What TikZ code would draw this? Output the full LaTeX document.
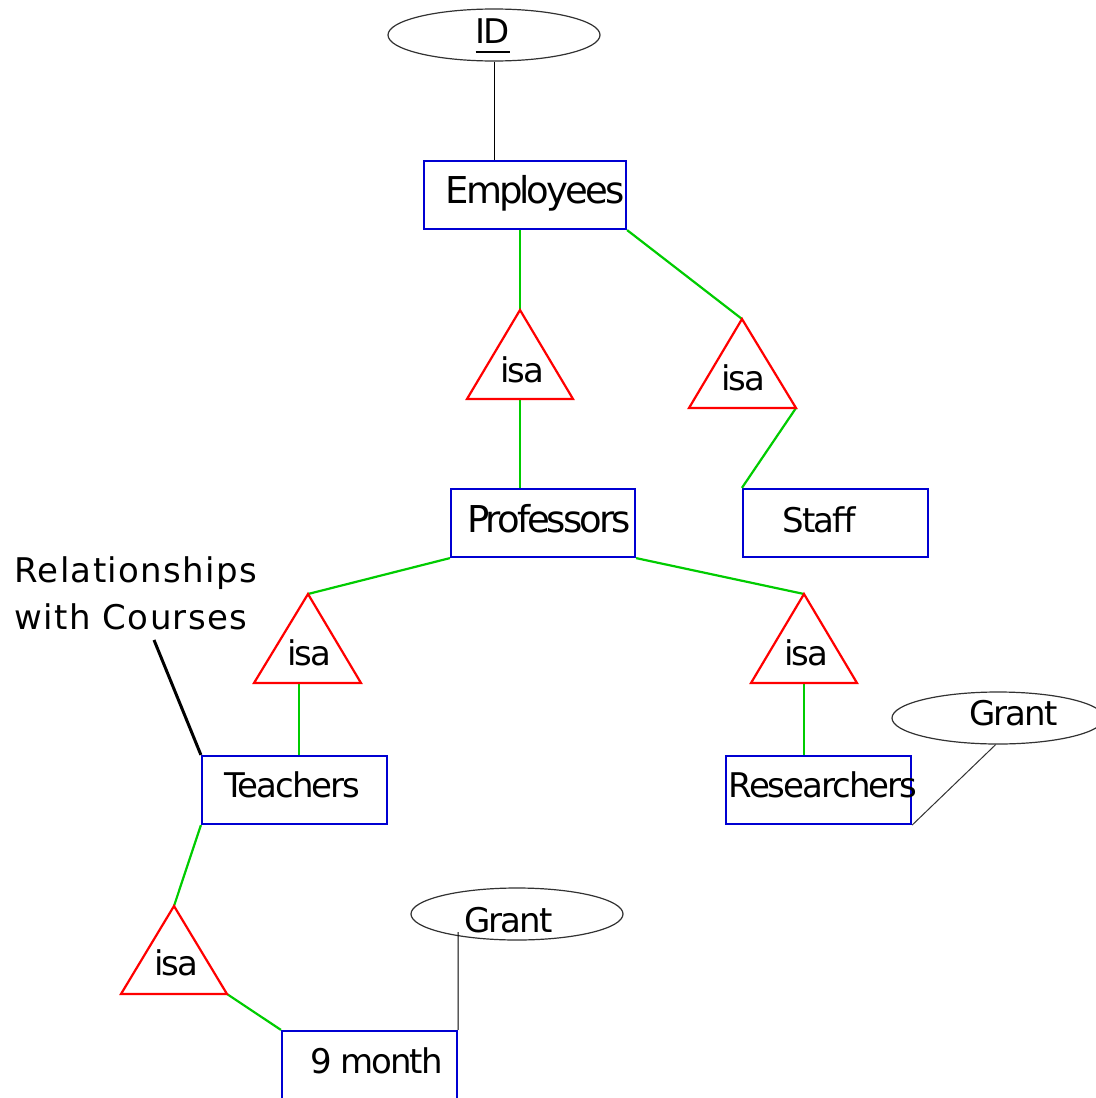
\documentclass[tikz,border=0pt]{standalone}
\usepackage{fontspec}
\usetikzlibrary{shapes.geometric}
\newfontfamily\lblfont[LetterSpace=-6]{DejaVu Sans}
\newfontfamily\bigfont[LetterSpace=-8]{DejaVu Sans}
\newfontfamily\notefont[LetterSpace=4]{DejaVu Sans}
\definecolor{eblue}{RGB}{0,0,210}
\definecolor{egreen}{RGB}{0,204,0}
\definecolor{ered}{RGB}{255,0,0}
\definecolor{egray}{RGB}{50,50,50}
\begin{document}
\begin{tikzpicture}[x=0.5pt,y=-0.5pt,
  box/.style={draw=eblue, line width=1.1pt, inner sep=0pt},
  attr/.style={ellipse, draw=egray, line width=0.6pt, inner sep=0pt, minimum width=106pt, minimum height=26pt},
  lbl/.style={anchor=base, inner sep=0pt, font=\lblfont\fontsize{17}{20}\selectfont},
  biglbl/.style={anchor=base, inner sep=0pt, font=\bigfont\fontsize{18.5}{22}\selectfont},
  isatri/.style={draw=ered, line width=1.1pt, line join=miter},
  isaline/.style={draw=egreen, line width=1.1pt},
  thinline/.style={draw=black, line width=0.5pt},
]
\useasboundingbox (0,0) rectangle (1096,1098);
\clip (0,0) rectangle (1096,1098);
\fill[white] (0,0) rectangle (1096,1098);

% attribute ellipses
\node[attr] (id) at (494,35) {};
\node[attr] (g1) at (998,718) {};
\node[attr] (g2) at (517,914) {};

% entity boxes
\node[box, minimum width=101pt, minimum height=34pt] (emp) at (525,195) {};
\node[box, minimum width=92pt, minimum height=34pt] (prof) at (543,523) {};
\node[box, minimum width=92.5pt, minimum height=34pt] (staff) at (835.5,523) {};
\node[box, minimum width=92.5pt, minimum height=34pt] (teach) at (294.5,790) {};
\node[box, minimum width=92.5pt, minimum height=34pt] (res) at (818.5,790) {};
\node[box, minimum width=87.5pt, minimum height=34pt] (nine) at (369.5,1065) {};

% isa triangle corners
\coordinate (t1) at (520,310); \coordinate (t1l) at (467,399); \coordinate (t1r) at (573,399); \coordinate (t1b) at (520,399);
\coordinate (t2) at (742,319); \coordinate (t2l) at (689,408); \coordinate (t2r) at (796,408);
\coordinate (t3) at (308,594); \coordinate (t3l) at (254,683); \coordinate (t3r) at (361,683); \coordinate (t3b) at (299,683);
\coordinate (t4) at (804,594); \coordinate (t4l) at (751,683); \coordinate (t4r) at (857,683); \coordinate (t4b) at (804,683);
\coordinate (t5) at (174,906); \coordinate (t5l) at (121,994); \coordinate (t5r) at (227,994);
\coordinate (g2end) at (458,932);
\coordinate (rnend) at (154,640);

% connectors
\draw[thinline] (id.south) -- (id.south |- emp.north);
\draw[isaline] (t1) -- (t1 |- emp.south);
\draw[isaline] (t1b) -- (t1b |- prof.north);
\draw[isaline] (emp.south east) -- (t2);
\draw[isaline] (t2r) -- (staff.north west);
\draw[isaline] (prof.south west) -- (t3);
\draw[isaline] (t3b) -- (t3b |- teach.north);
\draw[isaline] (prof.south east) -- (t4);
\draw[isaline] (t4b) -- (t4b |- res.north);
\draw[isaline] (teach.south west) -- (t5);
\draw[isaline] (t5r) -- (nine.north west);
\draw[thinline, draw=egray] (res.south east) -- (g1.-95);
\draw[thinline] (nine.north east) -- (g2end);
\draw[line width=1.5pt] (rnend) -- (teach.north west);

% triangles
\draw[isatri] (t1) -- (t1r) -- (t1l) -- cycle;
\draw[isatri] (t2) -- (t2r) -- (t2l) -- cycle;
\draw[isatri] (t3) -- (t3r) -- (t3l) -- cycle;
\draw[isatri] (t4) -- (t4r) -- (t4l) -- cycle;
\draw[isatri] (t5) -- (t5r) -- (t5l) -- cycle;

% labels
\node[lbl] (idt) at (493,43) {ID};
\draw[line width=0.6pt] ([yshift=-4.5pt]idt.base west) -- ([yshift=-4.5pt]idt.base east);
\node[biglbl] (empt) at (535,203) {Employees};
\node[biglbl] (proft) at (549,532) {Professors};
\node[lbl] (stafft) at (819,532) {Staff};
\node[lbl] (teacht) at (292.5,797) {Teachers};
\node[lbl] (rest) at (823,797) {Researchers};
\node[lbl] (ninet) at (376.5,1073) {9 month};
\node[lbl] (g1t) at (1013.5,725) {Grant};
\node[lbl] (g2t) at (508.5,932) {Grant};
\node[lbl] (i1) at (522.5,382) {isa};
\node[lbl] (i2) at (743.5,390) {isa};
\node[lbl] (i3) at (309.5,665) {isa};
\node[lbl] (i4) at (806.5,665) {isa};
\node[lbl] (i5) at (176.5,975) {isa};
\node[anchor=base west, inner sep=0pt, align=left, font=\notefont\fontsize{17}{23.5}\selectfont] (rel) at (14,629) {Relationships\\with Courses};
\end{tikzpicture}
\end{document}
